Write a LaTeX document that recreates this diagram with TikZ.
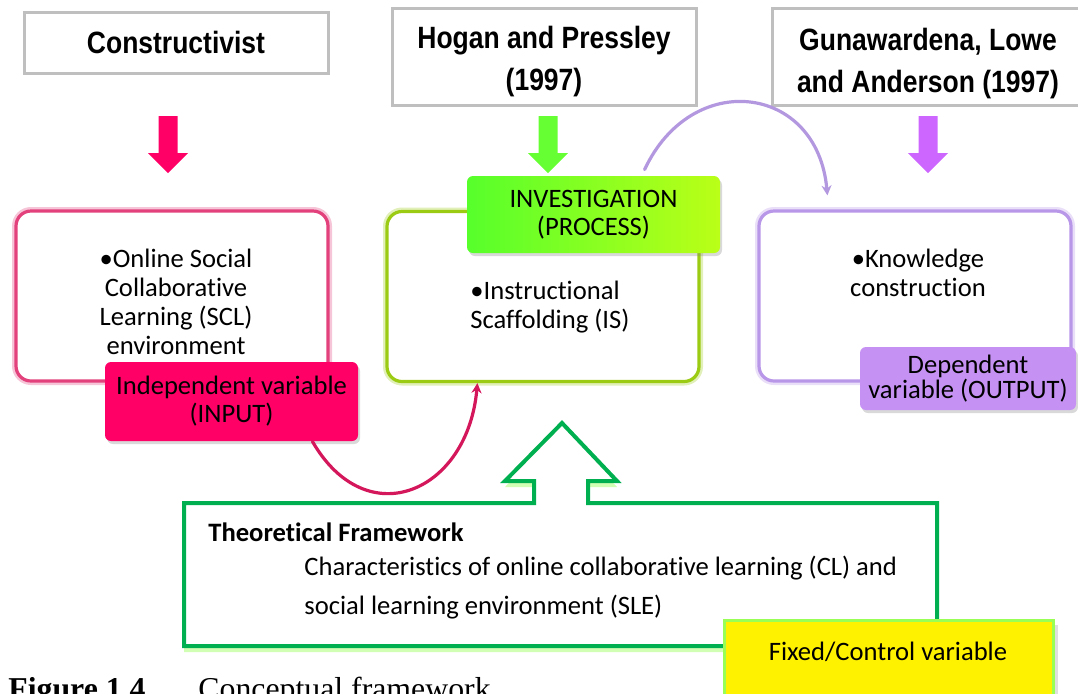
\documentclass[tikz,border=0pt]{standalone}
\usepackage{fontspec}
\setmainfont{Carlito}[Ligatures=NoCommon]
\newfontfamily\headfont[FakeStretch=0.86]{Liberation Sans}
\newfontfamily\capfont{Liberation Serif}
\usetikzlibrary{arrows.meta,shadows}

\definecolor{framegray}{HTML}{BFBFBF}
\definecolor{arrowpink}{HTML}{FF0066}
\definecolor{arrowgreen}{HTML}{66FF33}
\definecolor{arrowpurple}{HTML}{CC66FF}
\definecolor{inpink}{HTML}{E2417C}
\definecolor{procgreen}{HTML}{9CCB14}
\definecolor{outpurple}{HTML}{B896E8}
\definecolor{tagpurple}{HTML}{C592F4}
\definecolor{curvepink}{HTML}{D4175A}
\definecolor{curvepurple}{HTML}{B398E0}
\definecolor{framegreen}{HTML}{00B050}
\definecolor{glowgreen}{HTML}{C6FFA0}
\definecolor{fixedborder}{HTML}{99FF55}

\tikzset{
  downarrow/.pic={
    \fill (-9.5,0) -- (9.5,0) -- (9.5,37) -- (20,37) -- (0,57)
          -- (-20,37) -- (-9.5,37) -- cycle;
  }
}

\begin{document}
\begin{tikzpicture}[x=0.5pt,y=-0.5pt,>=Stealth,
    topbox/.style={draw=framegray,line width=1.5pt,fill=white,minimum width=152pt,
                   align=center,inner sep=0pt,
                   font=\headfont\bfseries\fontsize{15.4}{21}\selectfont},
    mainbox/.style={draw=#1,line width=1.6pt,rounded corners=7.5pt,fill=white,
                    minimum width=156pt,minimum height=85pt,
                    preaction={draw=#1!30,line width=4pt}},
    tagbox/.style={rounded corners=3pt,align=center,inner sep=0pt,
                   font=\fontsize{13.3}{14}\selectfont,
                   drop shadow={shadow xshift=1pt,shadow yshift=-1.5pt,opacity=.3}},
    bodytext/.style={align=center,inner sep=0pt,font=\fontsize{13.3}{14.5}\selectfont},
    linkarrow/.style={line width=1.6pt,line cap=round,
                      -{Stealth[length=5pt,width=5pt]}},
    captext/.style={anchor=base west,inner sep=0pt,font=\capfont\fontsize{15.9}{18}\selectfont}]

  \useasboundingbox (0,0) rectangle (1078,693);
  \clip (0,0) rectangle (1078,693);

  % theory sources
  \node[topbox,minimum height=30.5pt] (constructivist) at (176,42.5) {Constructivist};
  \node[topbox,minimum height=48.5pt,text height=37.2pt] (hogan) at (544,56.5)
       {Hogan and Pressley\\(1997)};
  \node[topbox,minimum height=48.5pt,minimum width=156pt,text height=39pt]
       (gunawardena) at (928,56.5) {Gunawardena, Lowe\\and Anderson (1997)};

  \pic[fill=arrowpink] at (168,116) {downarrow};
  \pic[fill=arrowgreen] at (548,116) {downarrow};
  \pic[fill=arrowpurple] at (928,116) {downarrow};

  % the three variables
  \node[mainbox=inpink] (input) at (172,296) {};
  \node[mainbox=procgreen] (process) at (543,296.5) {};
  \node[mainbox=outpurple] (output) at (915,296) {};

  \node[bodytext] (scltext) at (176,301.5)
       {•Online Social\\Collaborative\\Learning (SCL)\\environment};
  \node[bodytext,align=left,anchor=west] (istext) at (470,307.5)
       {•Instructional\\Scaffolding (IS)};
  \node[bodytext] (kctext) at (918,272.5) {•Knowledge\\construction};

  \node[tagbox,fill=arrowpink,minimum width=126.5pt,minimum height=39.5pt]
       (intag) at (231.5,401.5) {Independent variable\\(INPUT)};
  \node[tagbox,left color=arrowgreen!85!green,right color=arrowgreen!45!yellow,
        minimum width=126.5pt,minimum height=38.5pt]
       (proctag) at (593.5,214.5) {INVESTIGATION\\(PROCESS)};
  \node[tagbox,fill=tagpurple,minimum width=108pt,minimum height=31.5pt,
        font=\fontsize{13.3}{12.5}\selectfont]
       (outtag) at (968,378.5) {Dependent\\variable (OUTPUT)};

  \draw[linkarrow,curvepink] ([xshift=-23pt]intag.south east)
       to[out=-60,in=-95,looseness=1.6] ([xshift=46pt]process.south west);
  \draw[linkarrow,curvepurple] ([xshift=89pt,yshift=3pt]proctag.north west)
       to[out=65,in=95,looseness=1.55] ([xshift=35pt,yshift=7pt]output.north west);

  % theoretical framework
  \draw[framegreen,line width=2pt,fill=white,
        drop shadow={shadow xshift=0pt,shadow yshift=-3pt,fill=glowgreen,opacity=.8}]
       (184,503) -- (534,503) -- (534,481) -- (505,481) -- (562,423) -- (617,481)
       -- (588,481) -- (588,503) -- (937,503) -- (937,646) -- (184,646) -- cycle;
  \node[bodytext,anchor=west,font=\bfseries\fontsize{13.3}{14.5}\selectfont]
       (frametitle) at (208,532) {Theoretical Framework};
  \node[bodytext,align=left,anchor=west,font=\fontsize{13.3}{19.5}\selectfont]
       (frametext) at (304,587.5)
       {Characteristics of online collaborative learning (CL) and\\
        social learning environment (SLE)};

  \node[draw=fixedborder,line width=1.5pt,fill=yellow,minimum width=164.5pt,
        minimum height=45pt,drop shadow={opacity=.25}] (fixed) at (888.5,665) {};
  \node[bodytext] (fixedtext) at (888,652) {Fixed/Control variable};

  % caption
  \node[captext,font=\capfont\bfseries\fontsize{15.9}{18}\selectfont]
       (fignum) at (8,699) {Figure 1.4};
  \node[captext] (figtitle) at (198,699) {Conceptual framework};
\end{tikzpicture}
\end{document}
